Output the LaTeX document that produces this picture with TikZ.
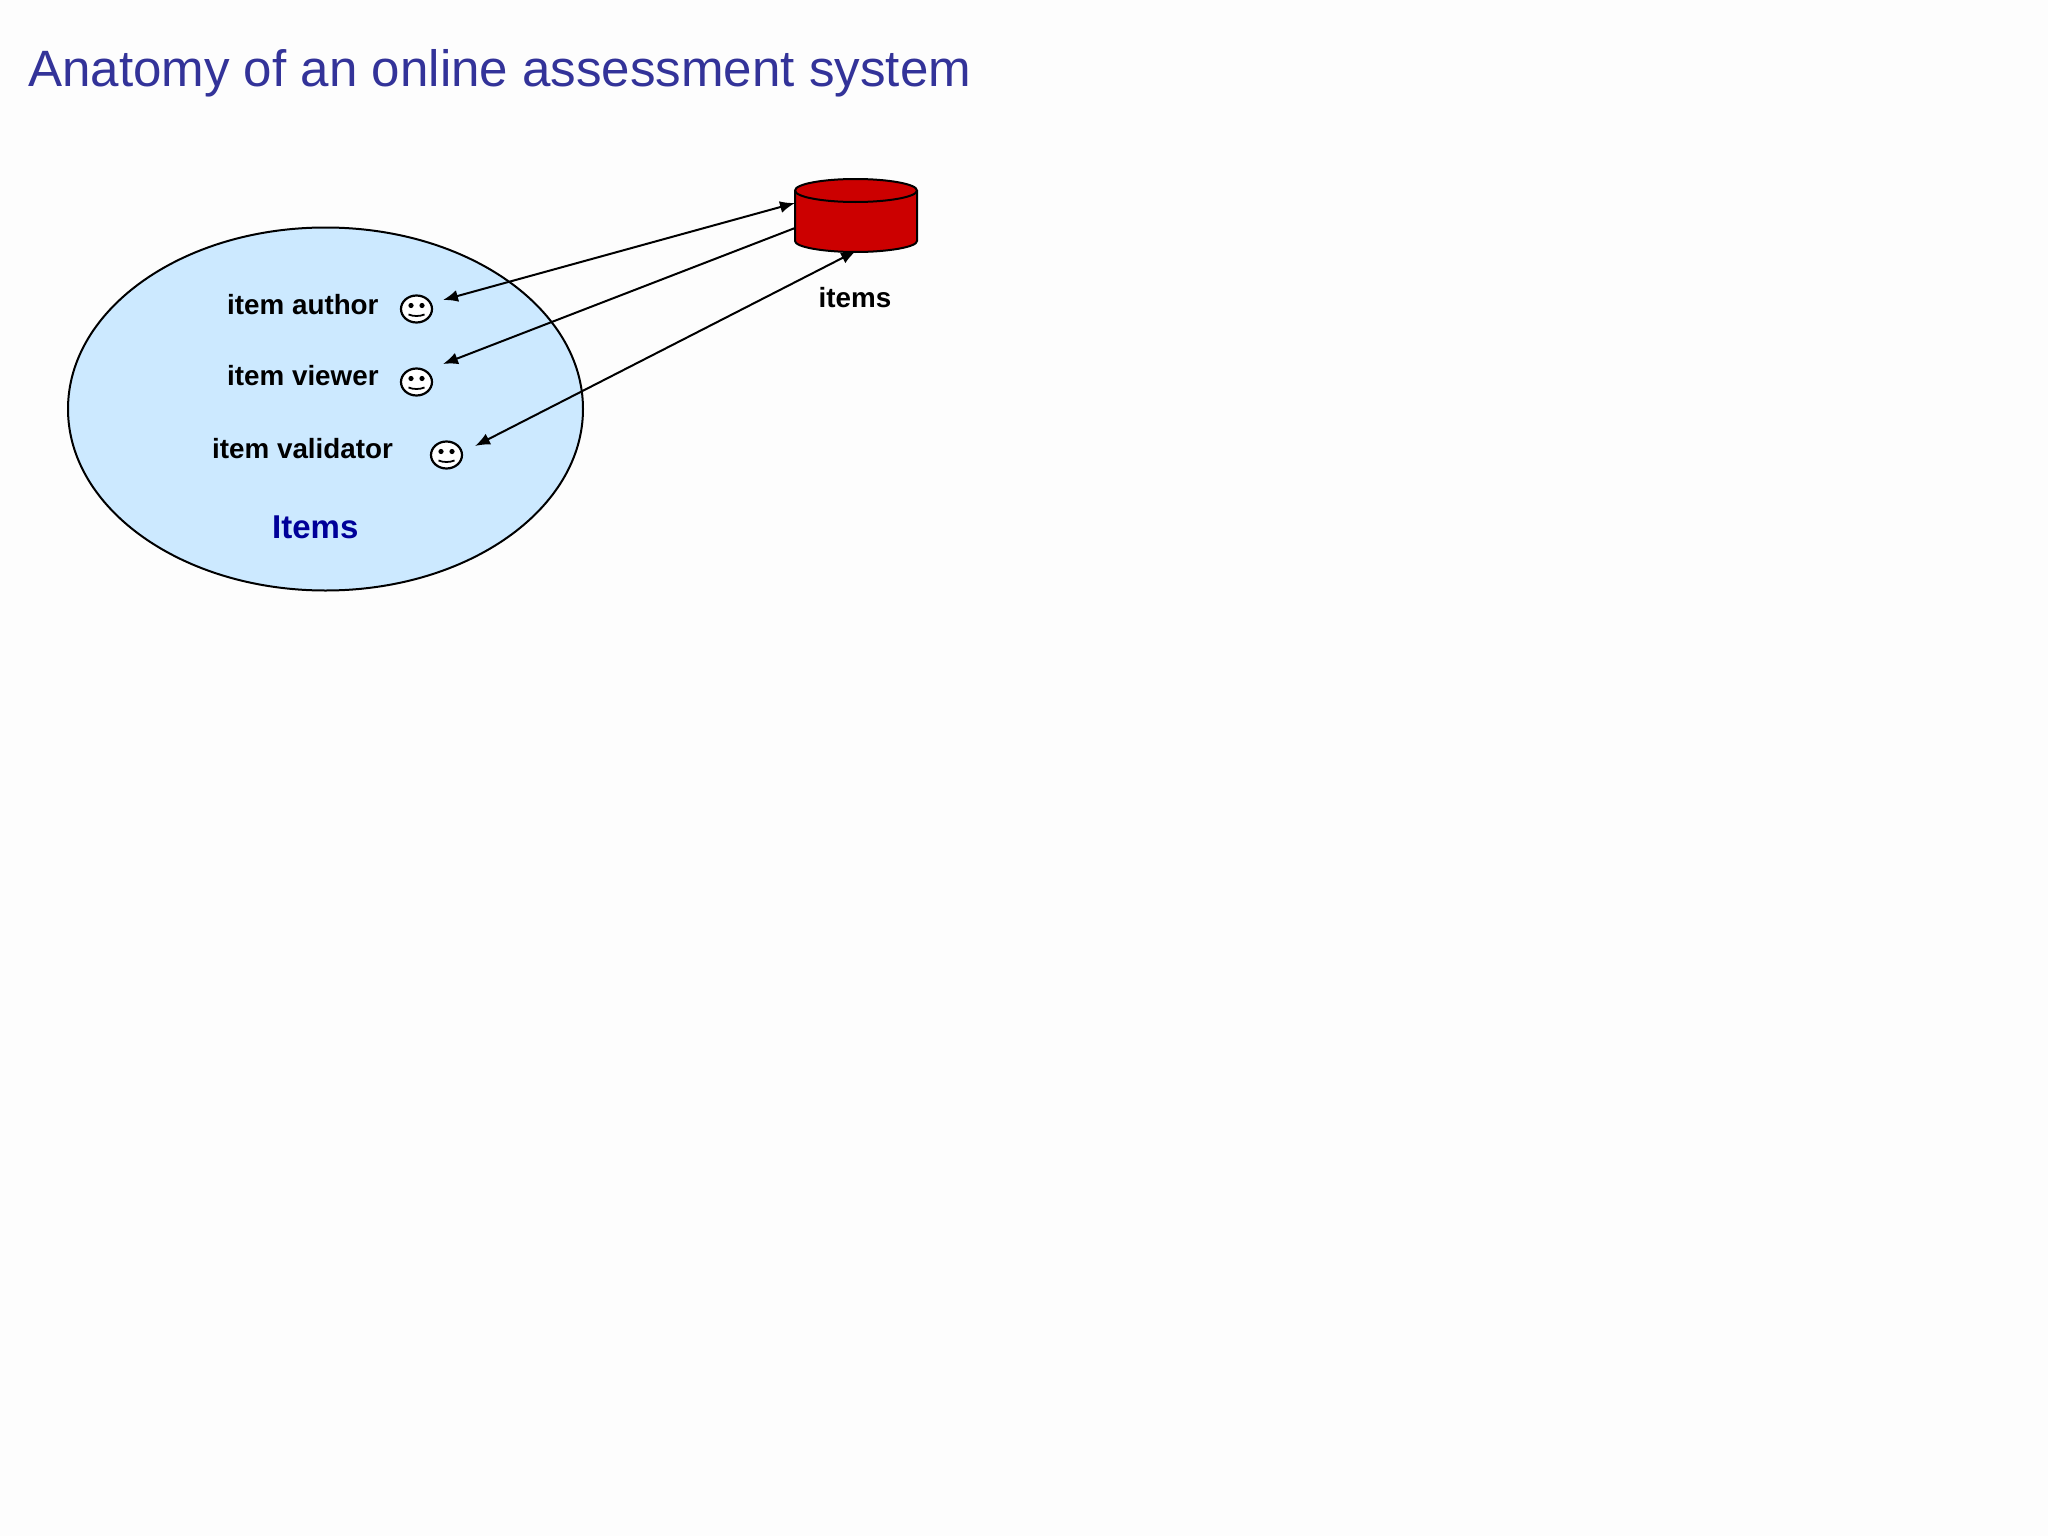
\documentclass[tikz,border=0pt]{standalone}
\usepackage{fontspec}
\setmainfont{Liberation Sans}
\usetikzlibrary{arrows.meta,shapes.geometric}
\definecolor{titleblue}{HTML}{333399}
\definecolor{itemsblue}{HTML}{000099}
\definecolor{bubble}{HTML}{CCE9FF}
\definecolor{dbred}{HTML}{CC0000}
\definecolor{pagebg}{HTML}{FDFDFD}
\tikzset{
  x=1pt,y=-1pt,
  outline/.style={draw=black,line width=2pt},
  lbl/.style={anchor=base west,inner sep=0pt,font=\fontsize{27.8}{32}\selectfont\bfseries,text=black},
  conn/.style={line width=2pt,draw=black},
  tip/.style={-{Latex[length=15pt,width=12pt]}},
  bothtip/.style={{Latex[length=15pt,width=12pt]}-{Latex[length=15pt,width=12pt]}},
  face/.style={draw=black,line width=2.2pt,fill=white,shape=ellipse,minimum width=31pt,minimum height=27pt,inner sep=0pt},
  pics/smiley/.style={code={
    \fill (-5.5,-3.5) circle (2.6pt);
    \fill (5.5,-3.5) circle (2.6pt);
    \draw[line width=1.8pt] (-8,5.5) .. controls (-3,7.5) and (3,7.5) .. (8,5.5);
  }}
}
\begin{document}
\begin{tikzpicture}
\useasboundingbox (0,0) rectangle (2048,1536);
\fill[pagebg] (0,0) rectangle (2048,1536);
\node[anchor=base west,inner sep=0pt,text=titleblue,font=\fontsize{51.1}{60}\selectfont] (title) at (28,87) {Anatomy of an online assessment system};

\draw[outline,fill=bubble] (325.5,409) ellipse [x radius=257.5,y radius=181.5];
\node[lbl] (author) at (227,314) {item author};
\node[lbl] (viewer) at (227,385) {item viewer};
\node[lbl] (validator) at (212,458) {item validator};
\node[lbl,text=itemsblue,font=\fontsize{33}{38}\selectfont\bfseries] (itemsgroup) at (272,538) {Items};
\node[lbl,anchor=base] (itemsdb) at (855,307) {items};

\node[face] (f1) at (416.5,309) {};
\node[face] (f2) at (416.5,382) {};
\node[face] (f3) at (446.5,455) {};
\pic at (f1.center) {smiley};
\pic at (f2.center) {smiley};
\pic at (f3.center) {smiley};

\draw[outline,fill=dbred] (795,190.5)
  .. controls (795,184) and (823,179) .. (855.5,179) .. controls (888,179) and (917,184) .. (917,190.5)
  -- (917,241) .. controls (917,247) and (888,252) .. (855.5,252) .. controls (823,252) and (795,247) .. (795,241) -- cycle;
\draw[outline] (795,190.5) .. controls (795,197) and (823,202) .. (855.5,202) .. controls (888,202) and (917,197) .. (917,190.5);

\coordinate (dbA) at (795,203);
\coordinate (dbB) at (795,228);
\coordinate (dbC) at (856,251);
\coordinate (a1) at (443,300);
\coordinate (a2) at (443,364);
\coordinate (a3) at (475,446);
\draw[conn,bothtip] (a1) -- (dbA);
\draw[conn,tip] (dbB) -- (a2);
\draw[conn,bothtip] (a3) -- (dbC);
\end{tikzpicture}
\end{document}
